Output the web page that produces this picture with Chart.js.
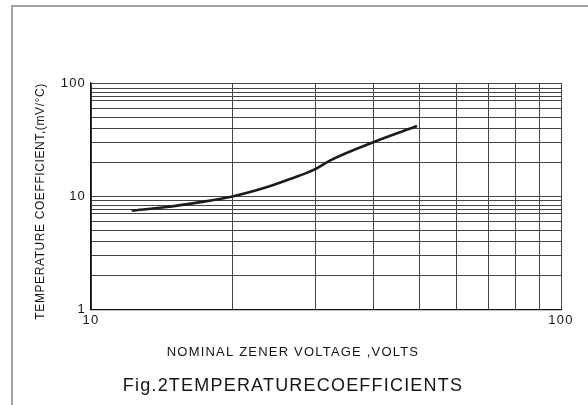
<!DOCTYPE html>
<html>
<head>
<meta charset="utf-8">
<script src="https://cdn.jsdelivr.net/npm/chart.js@4.4.1/dist/chart.umd.min.js"></script>
<style>
  html, body { margin: 0; padding: 0; background: #fff; overflow: hidden; width: 588px; height: 405px; }
  #wrap { position: relative; width: 588px; height: 405px; }
  #frame { position: absolute; left: 11px; top: 5px; width: 620px; height: 450px;
           border-left: 2px solid #a3a3a3; border-top: 2px solid #a3a3a3; pointer-events: none; }
  canvas { position: absolute; left: 0; top: 0; }
</style>
</head>
<body>
<div id="wrap">
  <canvas id="c" width="588" height="405"></canvas>
  <div id="frame"></div>
</div>
<script>
// ---- data ----
const voltage = [12.2, 14.5, 17.1, 20, 23.7, 26.6, 30, 32.3, 40, 49.4];          // Vz (volts)
const tempCoeff = [7.5, 8.05, 8.9, 10, 12.1, 14.3, 17.4, 20.8, 30.2, 41.7];      // mV/°C
const xGridValues = [10, 20, 30, 40, 50, 60, 70, 80, 90, 100];
const xLabelValues = [10, 100];
const yGridValues = [1, 2, 3, 4, 5, 6, 7, 7.6, 8.3, 9.2, 10, 20, 30, 40, 50, 60, 70, 76, 82, 89, 100];
const yLabelValues = [1, 10, 100];
const xTitle = 'NOMINAL ZENER VOLTAGE ,VOLTS';
const yTitle = 'TEMPERATURE COEFFICIENT,(mV/°C)';
const figTitle = 'Fig.2TEMPERATURECOEFFICIENTS';

const FONT = '"Liberation Sans", Arial, Helvetica, sans-serif';
const TXT = '#151515';

const spacingPlugin = {
  id: 'spacing',
  beforeLayout(c) { c.ctx.letterSpacing = '1.2px'; },
  beforeDraw(c) {
    c.ctx.letterSpacing = '1.2px';
    const ys = c.scales && c.scales.y;
    if (ys && !ys._titlePatched) {
      const orig = ys.drawTitle;
      ys.drawTitle = function () {
        const ctx = this.ctx;
        ctx.save();
        ctx.letterSpacing = '0.6px';
        ctx.translate(0, 5);
        orig.call(this);
        ctx.restore();
      };
      ys._titlePatched = true;
    }
  }
};

new Chart(document.getElementById('c'), {
  type: 'line',
  data: {
    datasets: [{
      data: voltage.map((v, i) => ({ x: v, y: tempCoeff[i] })),
      borderColor: '#1c1c1c',
      borderWidth: 2.6,
      pointRadius: 0,
      fill: false,
      cubicInterpolationMode: 'monotone'
    }]
  },
  options: {
    responsive: false,
    animation: false,
    devicePixelRatio: 1,
    layout: { padding: { left: 25, right: 27, top: 83, bottom: 8 } },
    plugins: {
      legend: { display: false },
      tooltip: { enabled: false },
      subtitle: {
        display: true, position: 'bottom', text: xTitle, color: TXT,
        font: { family: FONT, size: 13, weight: 'normal' },
        padding: { top: 16, bottom: 0 }
      },
      title: {
        display: true, position: 'bottom', text: figTitle, color: TXT,
        font: { family: FONT, size: 18, weight: 'normal' },
        padding: { top: 15, bottom: 0 }
      }
    },
    scales: {
      x: {
        type: 'logarithmic', min: 10, max: 100,
        afterBuildTicks: s => { s.ticks = xGridValues.map(v => ({ value: v })); },
        afterFit: s => { s.height = 19; },
        ticks: {
          autoSkip: false, maxRotation: 0, minRotation: 0, padding: 3, color: TXT,
          font: { family: FONT, size: 13 },
          callback: v => xLabelValues.includes(v) ? String(v) : ''
        },
        grid: { color: '#444', lineWidth: 1, drawTicks: false },
        border: { color: '#111', width: 1.3 }
      },
      y: {
        type: 'logarithmic', min: 1, max: 100,
        afterBuildTicks: s => { s.ticks = yGridValues.map(v => ({ value: v })); },
        afterFit: s => { s.width = 66; },
        ticks: {
          autoSkip: false, padding: 5, color: TXT,
          font: { family: FONT, size: 13 },
          callback: v => yLabelValues.includes(v) ? String(v) : ''
        },
        grid: { color: '#444', lineWidth: 1, drawTicks: false },
        border: { color: '#111', width: 1.3 },
        title: {
          display: true, text: yTitle, color: TXT,
          font: { family: FONT, size: 12, weight: 'normal' },
          padding: { top: 8, bottom: 0 }
        }
      }
    }
  },
  plugins: [spacingPlugin]
});
</script>
</body>
</html>
